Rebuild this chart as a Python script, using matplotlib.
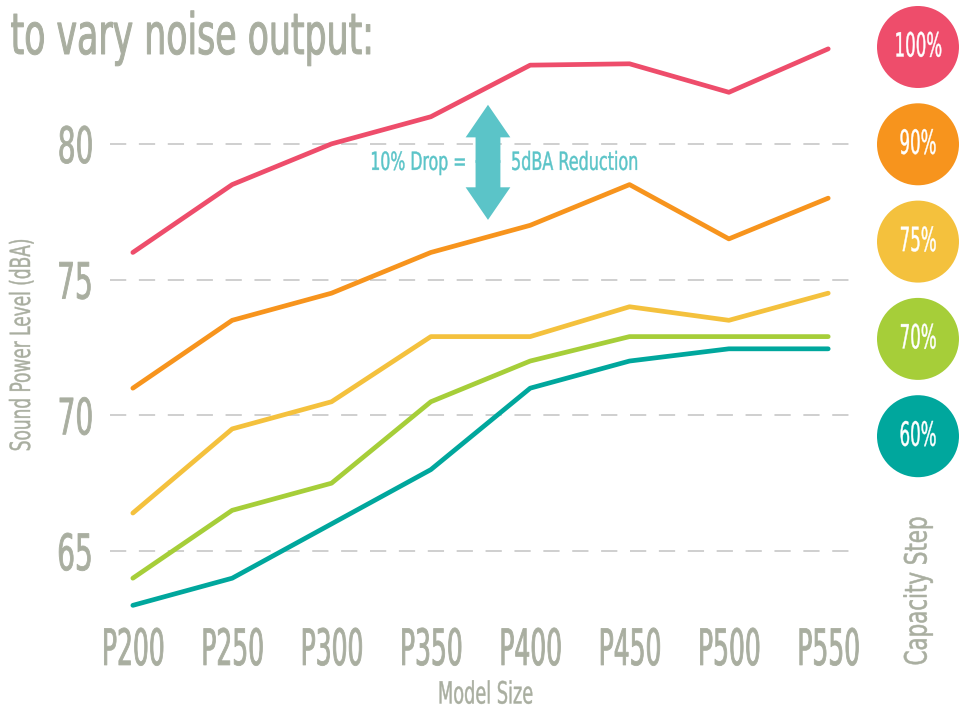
import matplotlib
matplotlib.use('Agg')
import matplotlib.pyplot as plt
from matplotlib.patches import Ellipse, FancyArrow
from matplotlib.patheffects import AbstractPathEffect
from matplotlib.transforms import Affine2D
import numpy as np

models = ['P200', 'P250', 'P300', 'P350', 'P400', 'P450', 'P500', 'P550']
steps = ['100%', '90%', '75%', '70%', '60%']
level_100 = [76.0, 78.5, 80.0, 81.0, 82.9, 82.95, 81.9, 83.5]
level_90 = [71.0, 73.5, 74.5, 76.0, 77.0, 78.5, 76.5, 78.0]
level_75 = [66.4, 69.5, 70.5, 72.9, 72.9, 74.0, 73.5, 74.5]
level_70 = [64.0, 66.5, 67.5, 70.5, 72.0, 72.9, 72.9, 72.9]
level_60 = [63.0, 64.0, 66.0, 68.0, 71.0, 72.0, 72.45, 72.45]
colors = ['#ee4d6b', '#f7941d', '#f4c13d', '#a6ce39', '#00a79d']

plt.rcParams['font.family'] = ['DejaVu Sans']
grey = '#a9aea0'


# no condensed font installed, so squeeze the glyphs horizontally (and thicken a bit)
class Squeeze(AbstractPathEffect):
	def __init__(self, sx, anchor=0.5, lw=0.0):
		super().__init__()
		self.sx = sx
		self.anchor = anchor
		self.lw = lw

	def draw_path(self, renderer, gc, tpath, affine, rgbFace=None):
		ext = tpath.get_extents()
		cx = ext.x0 + self.anchor * ext.width
		t = Affine2D().translate(-cx, 0).scale(self.sx, 1).translate(cx, 0) + affine
		gc0 = renderer.new_gc()
		gc0.copy_properties(gc)
		if self.lw > 0:
			gc0.set_linewidth(self.lw)
			gc0.set_foreground(rgbFace)
			gc0.set_joinstyle('round')
		renderer.draw_path(gc0, tpath, t, rgbFace)
		gc0.restore()


def sq(sx, anchor=0.5, lw=0.0):
	return [Squeeze(sx, anchor, lw)]


fig = plt.figure(figsize=(9.64, 7.16), dpi=100)
ax = fig.add_axes([110 / 964, 96 / 716, 750 / 964, 620 / 716])

x = np.arange(len(models))
for vals, c in zip([level_100, level_90, level_75, level_70, level_60], colors):
	ax.plot(x, vals, color=c, lw=3.4, solid_capstyle='round', zorder=3)

ax.set_xlim(-0.23, 7.32)
ax.set_ylim(62.46, 85.3)
ax.set_yticks([65, 70, 75, 80])
ax.set_xticks(x, models)
ax.tick_params(length=0, labelcolor=grey)
ax.tick_params(axis='y', labelsize=36, pad=11)
ax.tick_params(axis='x', labelsize=36, pad=5)
for t in ax.xaxis.get_major_ticks():
	t.label1.set_path_effects(sq(0.5, 0.5, 0.6))
for t in ax.yaxis.get_major_ticks():
	t.label1.set_path_effects(sq(0.56, 1.0, 0.6))
ax.grid(axis='y', color='#cccccc', lw=1.3, dashes=(9, 7))
for s in ax.spines.values():
	s.set_visible(False)

ax.set_xlabel('Model Size', color=grey, fontsize=22, labelpad=4, path_effects=sq(0.58, 0.5, 0.3))
fig.text(22 / 964, 1 - 345 / 716, 'Sound Power Level (dBA)', rotation=90, color=grey,
	fontsize=20, ha='center', va='center', path_effects=sq(0.61, 0.5, 0.3))
fig.text(10 / 964, 1 - 54 / 716, 'to vary noise output:', color=grey, fontsize=41,
	ha='left', va='baseline', path_effects=sq(0.61, 0.0, 0.7))

# double arrow annotation
arrow_c = '#5bc4c8'
ax.add_patch(FancyArrow(3.575, 79.3, 0, 2.14, width=0.25, head_width=0.45,
	head_length=1.2, length_includes_head=True, color=arrow_c, lw=0, zorder=4))
ax.add_patch(FancyArrow(3.575, 79.4, 0, -2.2, width=0.25, head_width=0.45,
	head_length=1.2, length_includes_head=True, color=arrow_c, lw=0, zorder=4))
ax.text(3.37, 79.3, '10% Drop =', color=arrow_c, fontsize=18, ha='right', va='center',
	path_effects=sq(0.63, 1.0, 0.3))
ax.text(3.8, 79.3, '5dBA Reduction', color=arrow_c, fontsize=18, ha='left', va='center',
	path_effects=sq(0.64, 0.0, 0.3))

# capacity step legend
for i, (lab, c) in enumerate(zip(steps, colors)):
	cy = 1 - (47 + i * 97.3) / 716
	fig.add_artist(Ellipse((918 / 964, cy), 82 / 964, 82 / 716, transform=fig.transFigure,
		color=c, lw=0))
	fig.text(918 / 964, cy, lab, color='white', fontsize=24, ha='center', va='center',
		path_effects=sq(0.5, 0.5, 0.3))
fig.text(918 / 964, 1 - 591 / 716, 'Capacity Step', rotation=90, color=grey, fontsize=22,
	ha='center', va='center', path_effects=sq(0.7, 0.5, 0.4))

fig.savefig('out.png', dpi=100)
